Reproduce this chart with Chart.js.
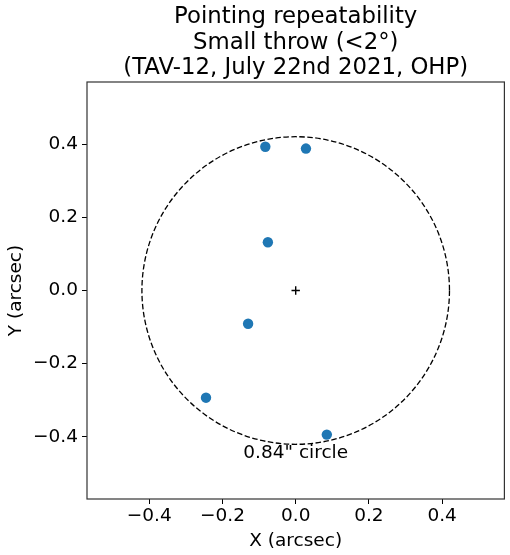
<!DOCTYPE html>
<html>
<head>
<meta charset="utf-8">
<script src="https://cdn.jsdelivr.net/npm/chart.js@4/dist/chart.umd.min.js"></script>
<style>
  html, body { margin: 0; padding: 0; background: #fff; }
  #wrap { width: 510px; height: 555px; }
</style>
</head>
<body>
<div id="wrap"><canvas id="myChart" width="510" height="555"></canvas></div>
<script>
// Pointing offsets measured on the sky (arcsec)
const offsetX = [-0.083, 0.028, -0.076, -0.130, -0.245, 0.085];
const offsetY = [0.393, 0.388, 0.132, -0.091, -0.293, -0.394];

// Reference centre and the 0.84" diameter circle around it
const centerX = [0];
const centerY = [0];
const circleDiameter = 0.84;

const tickValues = [-0.4, -0.2, 0.0, 0.2, 0.4];
const axisMin = -0.57;
const axisMax = 0.57;

const titleLines = ['Pointing repeatability', 'Small throw (<2°)', '(TAV-12, July 22nd 2021, OHP)'];
const circleLabel = '0.84" circle';

const FONT = "'DejaVu Sans', sans-serif";
const LABEL_SIZE = 18.5;

function fmtTick(v) {
  const s = Math.abs(v).toFixed(1);
  return v < -1e-9 ? '\u2212' + s : s;
}

// Frame, dashed circle, its label and the title
const overlay = {
  id: 'overlay',
  afterDatasetsDraw(chart) {
    const { ctx, chartArea: a, scales: { x, y } } = chart;
    const cx = x.getPixelForValue(centerX[0]);
    const cy = y.getPixelForValue(centerY[0]);
    const r = Math.abs(x.getPixelForValue(circleDiameter / 2) - cx);

    ctx.save();
    ctx.strokeStyle = '#000';
    ctx.lineWidth = 1.3;
    ctx.setLineDash([5.5, 2.5]);
    ctx.beginPath();
    ctx.arc(cx, cy, r, 0, Math.PI * 2);
    ctx.stroke();
    ctx.setLineDash([]);

    ctx.fillStyle = '#000';
    ctx.font = LABEL_SIZE + 'px ' + FONT;
    ctx.textAlign = 'center';
    ctx.textBaseline = 'top';
    ctx.fillText(circleLabel, cx, y.getPixelForValue(-circleDiameter / 2) - 0.5);

    ctx.strokeStyle = '#333';
    ctx.lineWidth = 1.2;
    ctx.strokeRect(a.left, a.top, a.right - a.left, a.bottom - a.top);

    ctx.font = '22.8px ' + FONT;
    ctx.textBaseline = 'alphabetic';
    const mid = (a.left + a.right) / 2;
    titleLines.forEach((t, i) => ctx.fillText(t, mid, 23 + i * 25.5));
    ctx.restore();
  }
};

const ctx = document.getElementById('myChart').getContext('2d');
new Chart(ctx, {
  type: 'scatter',
  data: {
    datasets: [
      {
        label: 'pointings',
        data: offsetX.map((v, i) => ({ x: v, y: offsetY[i] })),
        backgroundColor: '#1f77b4',
        borderColor: '#1f77b4',
        pointRadius: 5.2,
        borderWidth: 0
      },
      {
        label: 'centre',
        data: centerX.map((v, i) => ({ x: v, y: centerY[i] })),
        pointStyle: 'cross',
        pointRadius: 4.2,
        borderColor: '#000',
        borderWidth: 1.4
      }
    ]
  },
  options: {
    responsive: false,
    animation: false,
    events: [],
    layout: { padding: { top: 82, right: 3, left: 0, bottom: 0 } },
    plugins: { legend: { display: false }, tooltip: { enabled: false } },
    scales: {
      x: {
        type: 'linear',
        min: axisMin,
        max: axisMax,
        afterBuildTicks: s => { s.ticks = tickValues.map(v => ({ value: v })); },
        afterFit: s => { s.height = 56; },
        grid: { display: true, drawOnChartArea: false, tickLength: 5, tickColor: '#000', tickWidth: 1 },
        border: { display: false },
        ticks: { color: '#000', font: { family: FONT, size: LABEL_SIZE }, padding: 1, callback: v => fmtTick(v), maxRotation: 0 },
        title: { display: true, text: 'X (arcsec)', color: '#000', font: { family: FONT, size: LABEL_SIZE }, padding: { top: 0, bottom: 3 } }
      },
      y: {
        type: 'linear',
        min: axisMin,
        max: axisMax,
        afterBuildTicks: s => { s.ticks = tickValues.map(v => ({ value: v })); },
        afterFit: s => { s.width = 87; },
        grid: { display: true, drawOnChartArea: false, tickLength: 5, tickColor: '#000', tickWidth: 1 },
        border: { display: false },
        ticks: { color: '#000', font: { family: FONT, size: LABEL_SIZE }, padding: 4, callback: v => fmtTick(v) },
        title: { display: true, text: 'Y (arcsec)', color: '#000', font: { family: FONT, size: LABEL_SIZE }, padding: { top: 5, bottom: 0 } }
      }
    }
  },
  plugins: [overlay]
});
</script>
</body>
</html>
